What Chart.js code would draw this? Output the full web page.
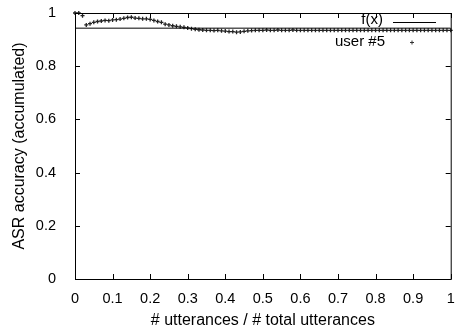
<!DOCTYPE html>
<html>
<head>
<meta charset="utf-8">
<script src="https://cdn.jsdelivr.net/npm/chart.js@4/dist/chart.umd.min.js"></script>
<style>
  html, body { margin: 0; padding: 0; background: #fff; }
  #wrap { width: 456px; height: 330px; position: relative; }
</style>
</head>
<body>
<div id="wrap"><canvas id="accChart" width="456" height="330"></canvas></div>
<script>
// x = # utterances / # total utterances
const utterFrac = [0, 0.01, 0.02, 0.03, 0.04, 0.05, 0.06, 0.07, 0.08, 0.09,
  0.1, 0.11, 0.12, 0.13, 0.14, 0.15, 0.16, 0.17, 0.18, 0.19,
  0.2, 0.21, 0.22, 0.23, 0.24, 0.25, 0.26, 0.27, 0.28, 0.29,
  0.3, 0.31, 0.32, 0.33, 0.34, 0.35, 0.36, 0.37, 0.38, 0.39,
  0.4, 0.41, 0.42, 0.43, 0.44, 0.45, 0.46, 0.47, 0.48, 0.49,
  0.5, 0.51, 0.52, 0.53, 0.54, 0.55, 0.56, 0.57, 0.58, 0.59,
  0.6, 0.61, 0.62, 0.63, 0.64, 0.65, 0.66, 0.67, 0.68, 0.69,
  0.7, 0.71, 0.72, 0.73, 0.74, 0.75, 0.76, 0.77, 0.78, 0.79,
  0.8, 0.81, 0.82, 0.83, 0.84, 0.85, 0.86, 0.87, 0.88, 0.89,
  0.9, 0.91, 0.92, 0.93, 0.94, 0.95, 0.96, 0.97, 0.98, 0.99, 1];

// accumulated ASR accuracy for user #5
const user5Acc = [1, 1, 0.99, 0.955, 0.96, 0.965, 0.968, 0.97, 0.972, 0.971,
  0.974, 0.975, 0.977, 0.98, 0.983, 0.984, 0.981, 0.98, 0.978, 0.978,
  0.976, 0.972, 0.968, 0.965, 0.958, 0.955, 0.952, 0.95, 0.948, 0.946,
  0.944, 0.941, 0.939, 0.937, 0.936, 0.935, 0.935, 0.934, 0.935, 0.933,
  0.932, 0.93, 0.93, 0.928, 0.929, 0.931, 0.933, 0.934, 0.935, 0.935,
  0.935, 0.936, 0.935, 0.935, 0.936, 0.935, 0.935, 0.935, 0.936, 0.935,
  0.935, 0.935, 0.935, 0.935, 0.935, 0.935, 0.935, 0.935, 0.935, 0.935,
  0.935, 0.935, 0.935, 0.935, 0.935, 0.935, 0.935, 0.935, 0.935, 0.935,
  0.935, 0.935, 0.935, 0.935, 0.935, 0.935, 0.935, 0.935, 0.935, 0.935,
  0.935, 0.935, 0.935, 0.935, 0.935, 0.935, 0.935, 0.935, 0.935, 0.935, 0.935];

// f(x): constant fit
const fxLevel = 0.943;
const fxRange = [0, 1];

const xTicks = [0, 0.1, 0.2, 0.3, 0.4, 0.5, 0.6, 0.7, 0.8, 0.9, 1];
const yTicks = [0, 0.2, 0.4, 0.6, 0.8, 1];

const FONT = 'Liberation Sans, Arial, Helvetica, sans-serif';

// gnuplot-like frame with inward ticks on all four sides, plus the legend
const framePlugin = {
  id: 'frame',
  afterDraw(chart) {
    const ctx = chart.ctx;
    const a = chart.chartArea;
    const xs = chart.scales.x, ys = chart.scales.y;
    ctx.save();
    ctx.strokeStyle = '#000';
    ctx.lineWidth = 1;
    ctx.strokeRect(a.left + 0.5, a.top + 0.5, a.right - a.left, a.bottom - a.top);
    ctx.beginPath();
    xTicks.forEach(v => {
      const px = Math.round(xs.getPixelForValue(v)) + 0.5;
      ctx.moveTo(px, a.bottom); ctx.lineTo(px, a.bottom - 5);
      ctx.moveTo(px, a.top); ctx.lineTo(px, a.top + 5);
    });
    yTicks.forEach(v => {
      const py = Math.round(ys.getPixelForValue(v)) + 0.5;
      ctx.moveTo(a.left, py); ctx.lineTo(a.left + 5, py);
      ctx.moveTo(a.right, py); ctx.lineTo(a.right - 5, py);
    });
    ctx.stroke();

    // legend
    ctx.fillStyle = '#000';
    ctx.font = '15px ' + FONT;
    ctx.textAlign = 'right';
    ctx.textBaseline = 'middle';
    ctx.fillText('f(x)', 383, 20);
    ctx.fillText('user #5', 385, 42);
    ctx.beginPath();
    ctx.moveTo(393, 22.5); ctx.lineTo(436, 22.5);
    ctx.stroke();
    ctx.strokeStyle = '#333';
    ctx.beginPath();
    ctx.moveTo(410, 42.5); ctx.lineTo(414, 42.5);
    ctx.moveTo(412, 40.5); ctx.lineTo(412, 44.5);
    ctx.stroke();
    ctx.restore();
  }
};

function initChart() {
  if (typeof Chart === 'undefined') {
    setTimeout(initChart, 300);
    return;
  }
  const ctx = document.getElementById('accChart').getContext('2d');
  new Chart(ctx, {
    type: 'line',
    data: {
      datasets: [
        {
          label: 'f(x)',
          data: fxRange.map(x => ({ x: x, y: fxLevel })),
          borderColor: '#000',
          borderWidth: 1,
          pointRadius: 0,
          fill: false
        },
        {
          label: 'user #5',
          data: utterFrac.map((x, i) => ({ x: x, y: user5Acc[i] })),
          showLine: false,
          clip: false,
          pointStyle: 'cross',
          pointRadius: 2,
          pointBorderWidth: 1.3,
          borderColor: '#222',
          backgroundColor: '#222'
        }
      ]
    },
    options: {
      responsive: false,
      animation: false,
      layout: { padding: { top: 13, right: 4, left: 10, bottom: 0 } },
      plugins: { legend: { display: false }, tooltip: { enabled: false } },
      scales: {
        x: {
          type: 'linear',
          min: 0,
          max: 1,
          afterBuildTicks: s => { s.ticks = xTicks.map(v => ({ value: v })); },
          afterFit: s => { s.height = 51; s.paddingLeft = 0; s.paddingRight = 0; },
          grid: { display: false },
          border: { display: false },
          ticks: {
            color: '#000',
            font: { family: FONT, size: 14.5 },
            padding: 3,
            maxRotation: 0,
            callback: v => String(v)
          },
          title: {
            display: true,
            text: '# utterances / # total utterances',
            color: '#000',
            font: { family: FONT, size: 16 },
            padding: { top: 2, bottom: 0 }
          }
        },
        y: {
          type: 'linear',
          min: 0,
          max: 1,
          afterBuildTicks: s => { s.ticks = yTicks.map(v => ({ value: v })); },
          afterFit: s => { s.width = 65; s.paddingTop = 0; s.paddingBottom = 0; },
          grid: { display: false },
          border: { display: false },
          ticks: {
            color: '#000',
            font: { family: FONT, size: 14.5 },
            padding: 11,
            callback: v => String(v)
          },
          title: {
            display: true,
            text: 'ASR accuracy (accumulated)',
            color: '#000',
            font: { family: FONT, size: 16 },
            padding: { top: 0, bottom: 4 }
          }
        }
      }
    },
    plugins: [framePlugin]
  });
}

document.addEventListener('DOMContentLoaded', initChart);
</script>
</body>
</html>
